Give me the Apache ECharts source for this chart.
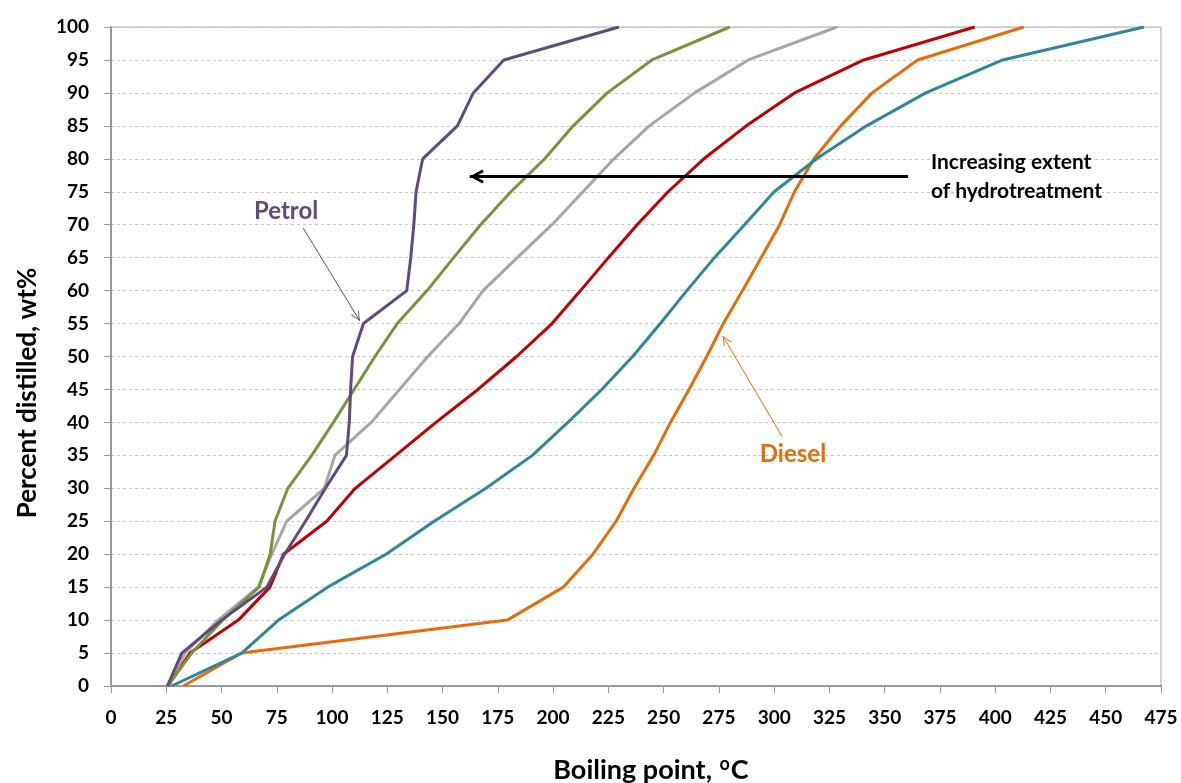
<!DOCTYPE html>
<html>
<head>
<meta charset="utf-8">
<script src="https://cdn.jsdelivr.net/npm/echarts@6/dist/echarts.min.js"></script>
<style>
html,body{margin:0;padding:0;background:#fff;}
#chart{width:1181px;height:783px;}
</style>
</head>
<body>
<div id="chart"></div>
<script>
// Percent distilled (wt%) levels
const pct = [0,5,10,15,20,25,30,35,40,45,50,55,60,65,70,75,80,85,90,95,100];
// Boiling points (°C) at each level
const petrolBP = [25.5,32,50,70.5,78.5,88,97,106.5,107.8,108.4,109.3,114.2,133.8,135.6,137,138,141,156.7,163.9,177.7,229.8];
const greenBP  = [25.5,36.5,50.5,67,72,74.2,80,90.8,100.6,110,119.4,129.5,143,155,167.2,180.9,196.2,209.1,224.5,244.7,279.9];
const grayBP   = [25.5,33.5,48.5,66.6,72.7,79.5,96.5,101.3,117.7,130.5,143.3,157.5,168.3,183.8,199.5,213.5,227.5,243.5,264,288.3,328.4];
const redBP    = [25.8,35.7,57.6,71.9,78,97.6,110.5,128.8,147,166,183.5,199.5,212.4,225,238,252,268.2,287.4,309.2,340.5,390.7];
const tealBP   = [27.4,59.1,75.8,98,124.4,146.2,169.6,190.6,206.7,222,236,248.5,260.5,273,286.6,300,319.2,341.8,368.6,403.4,467.3];
const dieselBP = [32.7,59.1,179.3,204.6,218,228.5,236.6,245.5,253.1,261.5,269.5,277,285.7,294.1,302.5,309.2,318,330.1,344.3,364.9,412.9];

const toPairs = bp => bp.map((b, i) => [b, pct[i]]);

const FONT = 'Lato';
const chevronBold = 'path://M5,-10 L5.01,-10 Z M5,0 L10,9 L8.2,10 L5,4 L1.8,10 L0,9 Z';
const chevronThin = 'path://M5,-10 L5.01,-10 Z M5,0 L10,9.3 L9.2,10 L5,1.8 L0.8,10 L0,9.3 Z';

const chart = echarts.init(document.getElementById('chart'), null, {renderer: 'canvas'});

function lineSeries(name, bp, color, extra) {
  return Object.assign({
    name: name,
    type: 'line',
    data: toPairs(bp),
    showSymbol: false,
    symbol: 'none',
    smooth: false,
    lineStyle: {color: color, width: 3},
    itemStyle: {color: color},
    silent: true
  }, extra || {});
}

const option = {
  animation: false,
  backgroundColor: '#ffffff',
  textStyle: {fontFamily: FONT},
  grid: {
    left: 111, top: 27, width: 1050, height: 659,
    containLabel: false,
    outerBoundsMode: 'none',
    show: true, borderColor: '#A6A6A6', borderWidth: 1
  },
  xAxis: {
    type: 'value', min: 0, max: 475, interval: 25,
    name: '{b|Boiling point, }{sup|o}{b|C}',
    nameLocation: 'middle', nameGap: 68,
    nameTextStyle: {
      fontFamily: FONT, fontSize: 27, fontWeight: 'bold', color: '#000',
      padding: [0, 0, 0, 30],
      rich: {
        b: {fontFamily: FONT, fontSize: 27, fontWeight: 'bold', color: '#000', lineHeight: 30, verticalAlign: 'bottom'},
        sup: {fontFamily: FONT, fontSize: 18, fontWeight: 'bold', color: '#000', verticalAlign: 'bottom', padding: [0, 1, 11, 1]}
      }
    },
    axisLine: {show: true, lineStyle: {color: '#989898', width: 2}},
    axisTick: {show: true, length: 7, lineStyle: {color: '#989898', width: 1}},
    axisLabel: {fontFamily: FONT, fontSize: 19, fontWeight: 'bold', color: '#000', margin: 22},
    splitLine: {show: false}
  },
  yAxis: {
    type: 'value', min: 0, max: 100, interval: 5,
    name: 'Percent distilled, wt%',
    nameLocation: 'middle', nameGap: 70, nameRotate: 90,
    nameTextStyle: {fontFamily: FONT, fontSize: 26, fontWeight: 'bold', color: '#000', padding: [0, 73, 0, 0]},
    axisLine: {show: true, lineStyle: {color: '#989898', width: 2}},
    axisTick: {show: true, length: 7, lineStyle: {color: '#989898', width: 1}},
    axisLabel: {fontFamily: FONT, fontSize: 19, fontWeight: 'bold', color: '#000', margin: 22},
    splitLine: {show: true, lineStyle: {color: '#C6C6C6', width: 1, type: [3, 3]}}
  },
  series: [
    lineSeries('Diesel', dieselBP, '#E46C0A', {
      markLine: {
        silent: true, symbol: ['none', chevronThin], symbolSize: [9, 20],
        label: {show: false},
        lineStyle: {color: '#E46C0A', width: 1, type: 'solid'},
        data: [[{coord: [303.5, 37.9]}, {coord: [276.8, 53.1]}]]
      },
      markPoint: {
        silent: true, symbol: 'circle', symbolSize: 0,
        label: {show: true, position: 'inside', formatter: 'Diesel', fontFamily: FONT, fontSize: 24, fontWeight: 'bold', color: '#E46C0A'},
        data: [{coord: [308.5, 35.1]}]
      }
    }),
    lineSeries('Sample 5', tealBP, '#31859C', {
      markLine: {
        silent: true, symbol: ['none', chevronBold], symbolSize: [14, 28],
        label: {show: false},
        lineStyle: {color: '#000000', width: 3, type: 'solid'},
        data: [[{coord: [360.5, 77.3]}, {coord: [162.3, 77.3]}]]
      },
      markPoint: {
        silent: true, symbol: 'circle', symbolSize: 0,
        label: {show: true, position: 'right', distance: 0, align: 'left',
          formatter: 'Increasing extent\nof hydrotreatment',
          fontFamily: FONT, fontSize: 21, fontWeight: 'bold', color: '#000', lineHeight: 29},
        data: [{coord: [370.9, 77.3]}]
      }
    }),
    lineSeries('Sample 4', redBP, '#C00000'),
    lineSeries('Sample 3', grayBP, '#A6A6A6'),
    lineSeries('Sample 2', greenBP, '#77933C'),
    lineSeries('Petrol', petrolBP, '#604A7B', {
      markLine: {
        silent: true, symbol: ['none', chevronThin], symbolSize: [9, 20],
        label: {show: false},
        lineStyle: {color: '#604A7B', width: 1, type: 'solid'},
        data: [[{coord: [86.9, 69.5]}, {coord: [112.6, 55.4]}]]
      },
      markPoint: {
        silent: true, symbol: 'circle', symbolSize: 0,
        label: {show: true, position: 'inside', formatter: 'Petrol', fontFamily: FONT, fontSize: 24, fontWeight: 'bold', color: '#604A7B'},
        data: [{coord: [79.2, 72.1]}]
      }
    })
  ]
};
chart.setOption(option);
</script>
</body>
</html>
